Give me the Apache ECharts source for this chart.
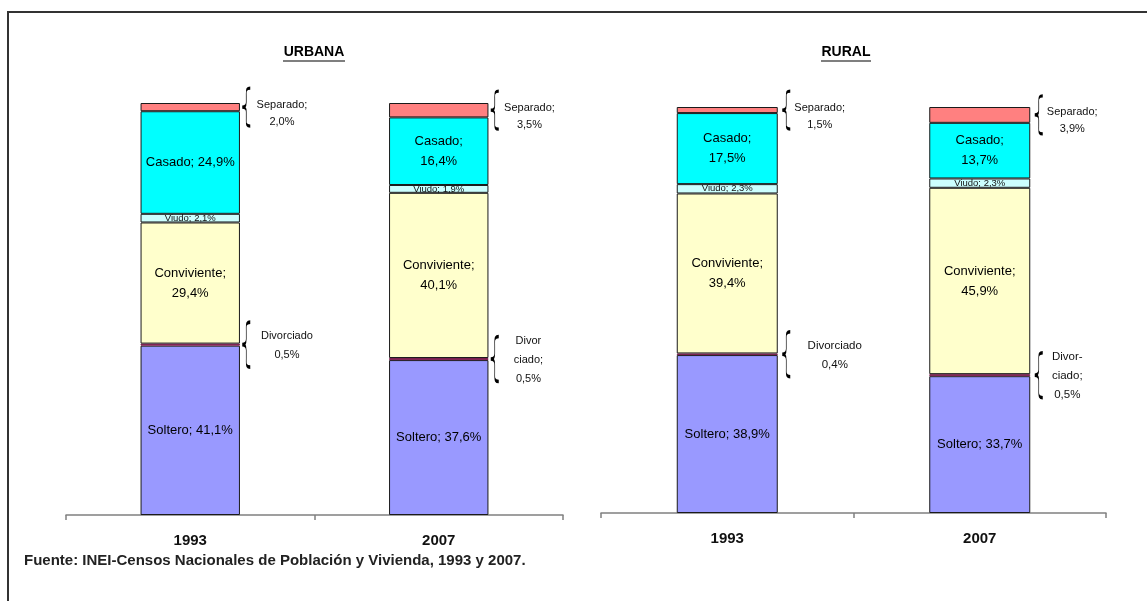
<!DOCTYPE html>
<html>
<head>
<meta charset="utf-8">
<script src="https://cdn.jsdelivr.net/npm/echarts@6/dist/echarts.min.js"></script>
<style>
  html, body { margin: 0; padding: 0; background: #fff; }
  #chart { width: 1147px; height: 601px; }
</style>
</head>
<body>
<div id="chart"></div>
<script>
// años (categorias) y estados civiles, de abajo hacia arriba
const anios = ['1993', '2007'];
const estados = ['Soltero', 'Divorciado', 'Conviviente', 'Viudo', 'Casado', 'Separado'];

// URBANA (%)
const solteroUrbana = [41.1, 37.6];
const divorciadoUrbana = [0.5, 0.5];
const convivienteUrbana = [29.4, 40.1];
const viudoUrbana = [2.1, 1.9];
const casadoUrbana = [24.9, 16.4];
const separadoUrbana = [2.0, 3.5];

// RURAL (%)
const solteroRural = [38.9, 33.7];
const divorciadoRural = [0.4, 0.5];
const convivienteRural = [39.4, 45.9];
const viudoRural = [2.3, 2.3];
const casadoRural = [17.5, 13.7];
const separadoRural = [1.5, 3.9];

const titulos = ['URBANA', 'RURAL'];
const fuente = 'Fuente: INEI-Censos Nacionales de Población y Vivienda, 1993 y 2007.';

// texto antes del valor, por estado -> [panel][año]
const prefijos = {
  Soltero: [['Soltero; ', 'Soltero; '], ['Soltero; ', 'Soltero; ']],
  Divorciado: [['Divorciado\n', 'Divor\nciado;\n'], ['Divorciado\n', 'Divor-\nciado;\n']],
  Conviviente: [['Conviviente;\n', 'Conviviente;\n'], ['Conviviente;\n', 'Conviviente;\n']],
  Viudo: [['Viudo; ', 'Viudo; '], ['Viudo; ', 'Viudo; ']],
  Casado: [['Casado; ', 'Casado;\n'], ['Casado;\n', 'Casado;\n']],
  Separado: [['Separado;\n', 'Separado;\n'], ['Separado;\n', 'Separado;\n']]
};

const colores = ['#9999FF', '#993366', '#FFFFCC', '#CCFFFF', '#00FFFF', '#FF8080'];
const FONT = "'Liberation Sans', Arial, sans-serif";
// distancia de las etiquetas externas al borde de la barra [panel][año]
const distExterna = {
  Separado: [[42, 41], [42, 42]],
  Divorciado: [[47, 40], [57, 37]]
};
const LLAVE = 'path://M10 0C4 0 5 3 5 8L5 15C5 19 3 20 0 20C3 20 5 21 5 25L5 32C5 37 4 40 10 40';

const paneles = [
  [solteroUrbana, divorciadoUrbana, convivienteUrbana, viudoUrbana, casadoUrbana, separadoUrbana],
  [solteroRural, divorciadoRural, convivienteRural, viudoRural, casadoRural, separadoRural]
];

const fmt = v => v.toFixed(1).replace('.', ',') + '%';

const series = [];
paneles.forEach((lista, p) => {
  lista.forEach((vals, k) => {
    const nombre = estados[k];
    const fuera = nombre === 'Separado' || nombre === 'Divorciado';
    // acumulado debajo de este segmento
    const base = anios.map((a, j) => lista.slice(0, k).reduce((s, arr) => s + arr[j], 0));
    let label;
    if (fuera) {
      label = {
        show: true,
        position: 'right',
        align: 'center',
        verticalAlign: 'middle',
        fontFamily: FONT,
        fontSize: nombre === 'Divorciado' && p === 1 ? 11.5 : 11,
        lineHeight: nombre === 'Separado' ? 17 : 19,
        offset: nombre === 'Separado' ? [0, 6] : [0, 1],
        color: '#111'
      };
    } else if (nombre === 'Viudo') {
      label = { show: true, position: 'inside', fontFamily: FONT, fontSize: 9.5, lineHeight: 9, color: '#111' };
    } else {
      label = { show: true, position: 'inside', fontFamily: FONT, fontSize: 13, lineHeight: 20, color: '#000' };
    }
    label.formatter = prm => prefijos[nombre][p][prm.dataIndex] + fmt(prm.value);

    const s = {
      name: nombre,
      type: 'bar',
      stack: 'panel' + p,
      xAxisIndex: p,
      yAxisIndex: p,
      barWidth: '40%',
      silent: true,
      itemStyle: {
        color: colores[k],
        borderColor: nombre === 'Divorciado' ? '#7a1f4f' : '#1a1a1a',
        borderWidth: 1
      },
      label: label,
      data: vals.map((v, j) => fuera ? { value: v, label: { distance: distExterna[nombre][p][j] } } : v)
    };
    if (fuera) {
      s.markPoint = {
        silent: true,
        symbol: LLAVE,
        symbolSize: nombre === 'Separado' ? [8, 38] : [8, 45],
        itemStyle: { color: 'none', borderColor: '#000', borderWidth: 1.5 },
        label: { show: false },
        data: vals.map((v, j) => ({
          coord: [anios[j], base[j] + v / 2],
          symbolOffset: [p === 0 ? 56 : 59, 0]
        }))
      };
    }
    series.push(s);
  });
});

const ejeX = idx => ({
  type: 'category',
  gridIndex: idx,
  data: anios,
  axisLine: { lineStyle: { color: '#808080', width: 1.5 } },
  axisTick: { show: true, length: 5, lineStyle: { color: '#808080', width: 1.5 } },
  axisLabel: { fontFamily: FONT, fontWeight: 'bold', fontSize: 15, color: '#111', margin: 18 }
});
const ejeY = idx => ({ type: 'value', gridIndex: idx, min: 0, max: 100, show: false });

const chart = echarts.init(document.getElementById('chart'));
chart.setOption({
  animation: false,
  backgroundColor: '#fff',
  grid: [
    { left: 66, width: 497, top: 103, height: 412 },
    { left: 601, width: 505, top: 107, height: 406 }
  ],
  xAxis: [ejeX(0), ejeX(1)],
  yAxis: [ejeY(0), ejeY(1)],
  series: series,
  graphic: [
    { type: 'rect', silent: true, shape: { x: 8, y: 12, width: 1300, height: 800 },
      style: { fill: 'none', stroke: '#333', lineWidth: 2 } },
    { type: 'text', x: 314, y: 52, style: { text: titulos[0], font: "bold 14px " + FONT, fill: '#000', align: 'center', verticalAlign: 'middle' } },
    { type: 'line', shape: { x1: 283, y1: 61, x2: 345, y2: 61 }, style: { stroke: '#000', lineWidth: 1.2 } },
    { type: 'text', x: 846, y: 52, style: { text: titulos[1], font: "bold 14px " + FONT, fill: '#000', align: 'center', verticalAlign: 'middle' } },
    { type: 'line', shape: { x1: 821, y1: 61, x2: 871, y2: 61 }, style: { stroke: '#000', lineWidth: 1.2 } },
    { type: 'text', x: 24, y: 561, style: { text: fuente, font: "bold 15px " + FONT, fill: '#222', verticalAlign: 'middle' } }
  ]
});
</script>
</body>
</html>
